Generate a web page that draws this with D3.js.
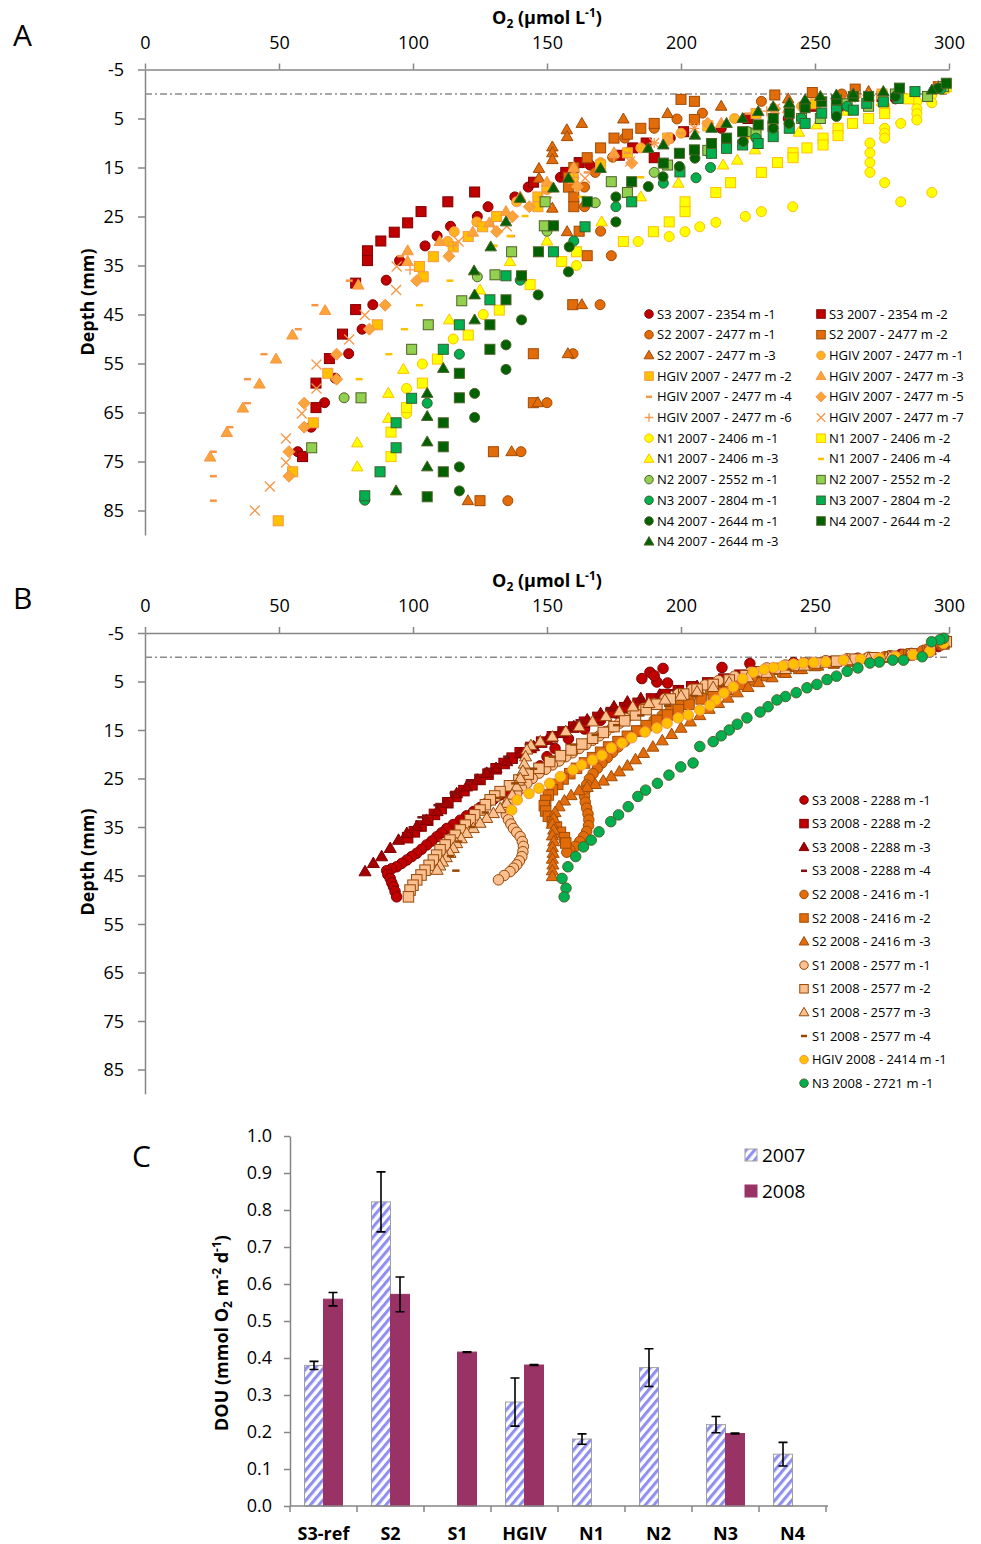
<!DOCTYPE html>
<html>
<head>
<meta charset="utf-8">
<title>Oxygen profiles and DOU</title>
<script src="https://d3js.org/d3.v7.min.js"></script>
<style>
  body { margin: 0; background: #fff; }
  svg text { font-family: "Open Sans", "Noto Sans", sans-serif; fill: #000; }
</style>
</head>
<body>
<svg id="fig" width="981" height="1544"></svg>
<script>
// ---- axis ticks and categories
var O2_TICKS = [0, 50, 100, 150, 200, 250, 300];
var DEPTH_TICKS = [-5, 5, 15, 25, 35, 45, 55, 65, 75, 85];
var DOU_TICKS = [0, 0.1, 0.2, 0.3, 0.4, 0.5, 0.6, 0.7, 0.8, 0.9, 1.0];
var SITES = ["S3-ref", "S2", "S1", "HGIV", "N1", "N2", "N3", "N4"];
var YEARS = ["2007", "2008"];

// ---- panel C values (null = no measurement)
var dou2007 = [0.38, 0.822, null, 0.281, 0.181, 0.374, 0.22, 0.14];
var err2007 = [0.011, 0.081, null, 0.065, 0.014, 0.051, 0.022, 0.032];
var dou2008 = [0.559, 0.572, 0.416, 0.381, null, null, 0.196, null];
var err2008 = [0.018, 0.047, 0.001, 0.001, null, null, 0.001, null];

// ---- panel A, 2007 profiles: [O2 umol/L, depth mm]
var a_s3_1 = [[297,-1.5],[280,1],[262,3],[240,5],[215,7],[196,9],[180,12],[166,14.5],[155,17],[143,19],[138,21],[128,23],[124,25],[114,27],[109,29],[104.5,31],[95,34],[90,38],[85,43],[81,48],[76,53],[71,58],[67,63],[62,68],[57,73]];
var a_s3_2 = [[298,-1.5],[275,0.5],[250,2.5],[225,5],[201,7.7],[187,10],[182,11],[190,13],[177,12.5],[162,14],[157,16],[145,18],[123,20],[113,22],[103,24],[98,26.3],[93,28.2],[88,30],[83,32],[83,34],[78.6,38.6],[78.6,44],[73.7,49],[68.8,54],[63.8,59],[63.8,64],[58.8,74]];
var a_s2_1 = [[298,-1],[260,0],[230,1.5],[208,3.9],[198.5,5.1],[190,7],[179,9],[174.5,12.9],[168,16],[164,19],[164,23],[170,28],[174,33],[169.8,43],[159.7,53],[150,63],[140.3,73],[135.4,83]];
var a_s2_2 = [[296,-1.5],[265,-1],[249,-0.3],[235,0.2],[205,1.5],[200,1.1],[205,5.2],[190,6],[185,7],[180,8.2],[175,9],[170,11],[165,13],[160,15],[158,17],[158,19],[160,21],[160,23],[162,28],[165,33],[159.6,43],[144.9,53],[144.9,63],[130,73],[125,83]];
var a_s2_3 = [[296,-1.5],[270,-0.5],[240,1],[215,2.5],[195,4],[178.5,5.1],[163,6],[157.4,7.3],[157.5,8.7],[152,10.8],[152,12],[152,13.4],[147,15.2],[147,17.2],[152,23.3],[157.5,28.1],[163,43],[157.8,53],[146.6,63],[136.8,73],[120.5,83]];
var a_hg_1 = [[297,-1],[270,0.5],[245,2.5],[220,5],[200,8],[185,11],[170,14],[160,17],[150,19.5],[138.7,22],[123.8,26.1],[115.4,28.1],[113,30.1]];
var a_hg_2 = [[298,-1.5],[275,0],[250,2],[228,4],[210,6.5],[195,9],[180,12],[170,14.5],[159.7,17.2],[150,19],[146.6,21],[146.6,23],[131.2,25],[126,27.1],[120.6,29.1],[115,31.2],[107.6,33.2],[102.4,35.2],[103.8,37.3],[86.7,47.1],[68.2,57],[62.8,67.1],[55.1,77.1],[49.7,87.1]];
var a_hg_3 = [[297,-1],[270,0.5],[240,3],[215,6],[195,9],[175,12],[160,15],[150,18],[140,21],[134.7,24],[128.5,26.3],[122.3,28.2],[110,30.1],[98,32],[98,34.2],[79.6,39],[67.2,44.2],[55,49.2],[48.9,54.1],[42.7,59.2],[36.5,64.1],[30.5,69.1],[24.3,74.1]];
var a_hg_4 = [[296,-1],[260,1],[225,4],[200,8],[180,12],[165,16],[150,20],[136.8,29],[130,31],[95.4,33.1],[76.2,38.1],[63.4,43.1],[57.2,48],[44.4,53.1],[38.2,58.2],[38.2,63.1],[31.7,68],[25.5,73],[25.5,78],[25.5,83]];
var a_hg_5 = [[297,-1],[265,0.5],[235,3],[210,6],[195,9.5],[181.6,14.1],[161.3,18.9],[143.4,23],[137.2,25],[131.2,28.1],[113.4,33.1],[101.4,38.1],[89.6,43.1],[83.7,48],[71.5,53.1],[71.5,58.2],[59.4,63.1],[59.4,68],[53.7,73],[53.7,78]];
var a_hg_6 = [[296,-1.2],[262,1],[232,3.5],[205,7],[190,10],[175,13],[160,17],[148,21],[130,27],[115,31],[98.9,35.9]];
var a_hg_7 = [[297,-1.5],[265,0.5],[235,3],[205,7],[190,10],[181,13.8],[164.2,17.2],[150,22],[135,27],[117,30.1],[93.9,35.2],[93.7,40],[82,45.1],[76.2,50.1],[64,55.2],[64,60.1],[58.5,65.2],[52.6,70.3],[52.6,75.2],[46.6,80.1],[41,85]];
var a_n1_1 = [[297,-1],[293.6,0.2],[293.6,1.8],[288,1.6],[288,3],[288,4],[288,5.3],[282,6],[276,7],[276,8],[276,9],[270.5,10],[270.5,12],[270.5,14],[270.5,16],[276,18.1],[282,22],[293.6,20.1],[241.7,23],[230,24],[224,25],[213,26.2],[207,27.1],[201.5,28.1],[195.6,29.1],[184,30.1],[161,35],[126.2,45],[115,50],[103.5,55.1],[97.6,60.1],[97.6,65.2]];
var a_n1_2 = [[299,-1.5],[285,1],[276,3],[276,4],[270,5],[264,6],[258.6,7],[258.6,8.5],[253,9],[253,10.4],[247,11],[241.8,12],[241.8,13],[236,14],[230,16],[218.5,18.1],[213,20.1],[201.5,22],[201.5,24],[195.6,26.1],[189.7,28.1],[178.5,30.1],[161,32.2],[155.5,34.2],[143.7,38.9],[132.2,44.1],[120.6,49.2],[109.1,54.1],[103.5,59],[97.6,64],[91.8,69],[91.8,74]];
var a_n1_3 = [[298,-1],[275,1.5],[262,3.5],[250.7,6.3],[244,7.8],[227.6,11.4],[221,13.5],[215.7,14.5],[199,18.2],[185,21],[170.4,26.1],[150,30],[136.2,34.2],[125,40],[113.5,46.1],[96.4,56.2],[90.8,61.1],[90.8,66.2],[79.2,71.2],[79.2,76.1]];
var a_n1_4 = [[295,-0.5],[270,2],[245,5],[225,9],[205,13],[185,17],[163,21],[141.8,24.9],[136.2,29],[130.3,31],[113.8,38.1],[102.4,43.1],[96.8,48],[91,53.1],[79.9,58.2]];
var a_n2_1 = [[296,-1.2],[270,0.5],[258,2.5],[246,2.6],[225,7.7],[211.4,10.4],[210.8,12.1],[190,16],[168,22.2],[150,28],[124,37.3],[74.3,62]];
var a_n2_2 = [[298,-1.5],[292,0.5],[280,0],[270,2.5],[262,2],[252,5],[245,5],[234.3,6.6],[228,8],[217,10],[210,11.5],[195,14.5],[180,20.1],[174,17.9],[149.3,22],[149,26.9],[136.8,32.2],[130.6,36.9],[118.2,42.2],[105.7,47.1],[99.5,52.1],[80.6,62],[62.2,72.2]];
var a_n3_1 = [[297,-1],[280,0.5],[262,2.5],[245,5],[228,9],[211,15],[205.6,17.1],[193.4,18.2],[175.7,23],[160,30],[140,38],[117.3,53.1],[105.3,63.1],[82,82.9]];
var a_n3_2 = [[287.3,-0.5],[281,0.9],[275.5,1.6],[269.3,1.9],[264.3,3.3],[258,3.3],[252.5,3.9],[246.3,6],[240.4,7],[234.4,8.7],[228.8,10.1],[223,10.4],[217,11.1],[211.4,12.1],[199.6,15.9],[181.6,22],[164.2,27.1],[152.4,32.2],[134.7,37.1],[128.7,42],[117.3,47.1],[111.3,52.1],[99.5,62.1],[93.7,67.1],[93.7,72.2],[87.7,77.1],[82,82]];
var a_n4_1 = [[296,-1.2],[280,0.5],[264,0.5],[258,4.6],[240.3,6],[234.4,7],[223.2,9.7],[205.2,13.1],[199.4,14.8],[193.3,16.9],[187.8,18.9],[175.7,21],[175.7,26.1],[158.3,31.2],[158,36.3],[146.7,41],[140.5,46.1],[134.7,51.2],[134.7,56.2],[123,61.1],[123,66],[117.3,76.1],[117.3,81]];
var a_n4_2 = [[299,-2.2],[281.5,-1.2],[270,0.5],[264.3,0.5],[258,1.2],[252.5,1.6],[246.3,2.8],[240.4,3.9],[234.4,5],[228.8,6.3],[223,7.7],[217,9],[211.4,10.1],[205,11.4],[199.4,12.1],[193.4,14.1],[181.6,17.9],[165,22],[152.4,26.9],[146.8,32.2],[140.5,37.1],[134.7,42],[128.7,47.1],[128.7,52.1],[117.3,57],[117.3,62],[111.3,67.1],[111.3,72],[111.3,77.1],[105.3,82.2]];
var a_n4_3 = [[293.6,-0.8],[275.5,-0.5],[264.3,0],[258,0.2],[252,0.5],[246.3,1.2],[240.4,1.9],[234.4,2.6],[228.8,3.6],[223,5],[217,6],[211.4,7],[205.2,8.4],[193.4,10.4],[187.8,11.1],[170,15.2],[158,17.2],[152.4,19.2],[140,21.3],[134.7,26.1],[129,31.2],[122.8,36.1],[123,41],[123,46.1],[111.3,56],[105.3,61.1],[105.3,65.8],[105.3,71],[105.3,76.1],[93.7,81]];

// ---- panel B, 2008 profiles: [O2 umol/L, depth mm]
var b_s3_1 = [[296,-2.2],[282,-0.6],[266,0.2],[242,1.1],[225.7,1.3],[215.3,2.1],[193.3,2.3],[188.4,3.1],[185.4,4.4],[191,5.1],[195,5.3],[190,3.8],[176,11.5],[170,13],[164,14.8],[158,16.8],[153,18.8],[150,20.5],[147.4,22.4],[145,23.9],[142.5,25.3],[140,26],[137.5,26.7],[135,27.6],[132.5,28.4],[130,29.3],[127.5,30.1],[125,31],[122.6,31.8],[120,32.7],[117.6,33.6],[115,34.5],[112.6,35.3],[110.7,36.2],[108.9,37],[107,37.9],[105.1,38.7],[103.2,39.6],[101.4,40.4],[99.5,41.1],[97.7,41.8],[95.8,42.5],[93.9,43.2],[92,43.6],[90.2,44],[90.6,44.8],[91.5,45.6],[92.1,46.5],[92.7,47.3],[93.3,48.3],[93.9,49.4]];
var b_s3_2 = [[298,-2.8],[292,-1.3],[285,-0.5],[278,-0.1],[271,0.2],[264,0.5],[257,0.9],[250,1.3],[243,1.8],[236,2.4],[229,3],[222,3.7],[216,4.5],[210,5.3],[204,6.1],[199,6.9],[194,7.7],[189,8.6],[184,9.5],[179,10.4],[174,11.4],[169,12.4],[164,13.4],[160,14.4],[156,15.4],[152,16.4],[148,17.5],[144,18.6],[140,19.7],[137,20.8],[134,21.9],[131,23],[128,24.1],[125,25.2],[122,26.3],[119,27.5],[116,28.7],[113,30],[110.5,31.2],[108,32.4],[105.5,33.6],[103,34.8],[100.5,36],[98,37.2]];
var b_s3_3 = [[298,-3],[293,-1.5],[286,-0.6],[278,-0.2],[270,0.2],[262,0.6],[254,1.1],[246,1.7],[238,2.4],[230,3.2],[222,4.1],[214,5],[206,6],[199,7],[192,7.8],[185,8.5],[180,9.2],[175,10.2],[170,11.6],[165,12.9],[160,14.3],[155,15.7],[150,17.1],[145,18.4],[140,19.8],[135,21.5],[131,22.9],[127.5,23.9],[124,25.3],[120,26.7],[116.3,28.1],[112.6,30.1],[109,31.8],[105,33.6],[101.4,34.9],[97.7,36.3],[94.6,37.7],[91.5,39.4],[88.3,41.1],[85.2,42.5],[82.1,44.2]];
var b_s3_4 = [[297,-2.5],[285,-0.8],[270,0],[255,0.8],[240,1.8],[225,3.2],[210,5],[197,6.8],[185,8.6],[173,10.8],[162,13],[152,15.5],[143,18],[135,20.5],[128,23],[121,25.5],[115,28],[109,30.5],[103,33]];
var b_s2_1 = [[297,-2.5],[290,-1.3],[283,-0.6],[276,-0.1],[269,0.3],[262,0.6],[255,1],[248,1.4],[242,1.9],[236,2.5],[230,3.2],[225,4],[220,4.9],[215,5.9],[211,6.9],[207,7.9],[203,8.9],[199.5,9.9],[196,10.9],[193,12],[190,13],[187,14.1],[184,15.2],[181.5,16.3],[179,17.4],[176.5,18.5],[174.5,19.6],[172.5,20.7],[170.5,21.8],[168.8,22.9],[167.2,24],[165.8,25.1],[164.8,26.3],[164.2,27.5],[164,28.7],[164.3,29.9],[164.8,31.1],[165.3,32.3],[165.6,33.5],[165.5,34.7],[164.8,35.9],[163.6,37],[162.2,38],[160.5,39],[158.5,39.7],[157.4,40.2]];
var b_s2_2 = [[298,-2.8],[292,-1.4],[285,-0.5],[278,0],[271,0.4],[264,0.8],[257,1.2],[250,1.7],[244,2.3],[238,3],[232,3.8],[227,4.7],[222,5.6],[217,6.6],[212,7.6],[207.5,8.6],[203,9.7],[199,10.8],[195,11.9],[191,13],[187,14.1],[183.5,15.2],[180,16.3],[176.5,17.4],[173,18.5],[170,19.6],[167,20.7],[164,21.8],[161,22.9],[158.5,24],[156,25.1],[154,26.2],[152,27.3],[150.5,28.4],[149.5,29.5],[149,30.6],[149.5,31.7],[150.5,32.8],[152,33.9],[153.5,35],[155,36.1],[156.5,37.2],[157,38.3]];
var b_s2_3 = [[298,-3],[292,-1.5],[285,-0.6],[278,-0.1],[271,0.3],[264,0.7],[257,1.2],[251,1.8],[245,2.5],[239,3.3],[234,4.2],[229,5.2],[225,6.2],[221,7.3],[217.5,8.4],[214,9.5],[210.5,10.7],[207,12],[203.5,13.3],[200,14.6],[196.5,15.9],[193,17.2],[189.5,18.5],[186,19.8],[183,21.1],[180,22.4],[177,23.6],[174,24.6],[171,25.5],[168,26.2],[165,26.8],[162,27.5],[159,28.5],[156.5,29.6],[154.5,30.8],[153,32],[152.5,33.2],[152,34.4],[152.5,35.6],[152,36.8],[152.5,38],[152,39.2],[152.3,40.4],[152,41.6],[152.2,42.8],[152,44],[152,45.2]];
var b_s1_1 = [[299,-3.5],[293,-1.8],[286,-0.8],[278,-0.3],[270,0],[262,0.3],[254,0.7],[246,1.1],[239,1.6],[232,2.2],[226,3],[220,3.9],[214,4.8],[209,5.7],[204,6.6],[199,7.5],[194,8.5],[190,9.5],[186,10.5],[182,11.6],[179.5,12.6],[177,13.6],[174.5,14.4],[172,15.3],[169.5,16.2],[167,17.1],[164.5,18],[162,18.8],[159.5,19.7],[157,20.5],[154.5,21.4],[152,22.2],[149.5,23.1],[147,23.9],[144.5,25],[142.5,26],[140.5,27],[138.7,28.1],[137,29],[135.6,29.8],[134.8,30.6],[134.4,31.5],[134.8,32.5],[135.6,33.5],[136.5,34.4],[137.5,35.3],[138.7,36.1],[140,37],[140.8,38],[141.2,39],[141,40.1],[140.6,41.1],[139.7,42],[138.7,42.8],[137.5,43.5],[136.2,44.2],[134,45],[131.9,45.9]];
var b_s1_2 = [[299,-3.2],[293,-1.6],[286,-0.7],[279,-0.2],[272,0.1],[265,0.4],[258,0.8],[251,1.2],[244,1.7],[237,2.3],[230,3],[224,3.8],[218,4.7],[212,5.6],[206,6.6],[201,7.6],[196,8.6],[191,9.7],[187,10.8],[183,11.9],[179,13.1],[175,14.3],[171,15.5],[167,16.7],[163,17.9],[159,19.1],[155,20.3],[151,21.5],[147,22.9],[143,24.1],[139.5,25.3],[136,26.5],[132.5,27.7],[130.5,28.6],[128.8,29.4],[127,30.4],[125,31.5],[123,32.5],[121.3,33.5],[119.5,34.6],[117.6,35.6],[115.7,36.7],[113.8,37.7],[112,38.7],[110.1,39.7],[108.8,40.8],[107.6,41.8],[106,42.9],[104.5,43.9],[103,44.9],[101.4,45.9],[100,47],[98.9,48],[98.3,49.4]];
var b_s1_3 = [[298,-3],[292,-1.4],[285,-0.5],[278,0],[270,0.3],[262,0.7],[254,1.2],[246,1.8],[239,2.5],[232,3.3],[225,4.2],[218,5.2],[212,6.2],[206,7.1],[200,8],[194,8.8],[188,9.5],[182,10.2],[177,11.2],[172,12.2],[167,13.3],[162,14.3],[157,15.3],[152,16.4],[147.5,17.4],[144,18.2],[142.5,19.1],[142,20.5],[141.5,22],[141,23.5],[140,25],[138.7,26.7],[137,28.4],[135,30.1],[132.5,31.2],[130,32.2],[127.5,33.2],[125,34.2],[122.5,35.3],[120,36.3],[118,37.4],[116.3,38.4],[115,39.4],[113.8,40.4],[112.4,41.3],[111,42.2],[110,43],[109,43.9]];
var b_s1_4 = [[298,-3],[285,-0.5],[270,0.5],[255,1.2],[240,2.5],[228,4],[215,6],[205,8],[195,10],[185,12],[176,14],[168,16],[160,18],[152,20.5],[145,23],[138,26],[132,29],[127,32],[122,35],[117,38],[114,41],[116,44]];
var b_hg_1 = [[298,-2.9],[292.8,-1.2],[286.6,-0.5],[280,-0.1],[274,0.2],[267,0.4],[260.6,0.6],[254,1],[249.5,1.05],[245.6,1.2],[242,1.4],[238,1.8],[234.5,2.1],[231,2.5],[227,3.1],[223,4.4],[219.5,6.1],[216,7.4],[213,8.8],[210.8,9.9],[207,10.9],[202.7,11.9],[199,12.5],[194.8,13.6],[191,14.6],[186.6,15.4],[181.6,16.6],[178,17.7],[174,18.7],[170.5,20.2],[167,21.2],[162.9,22.2],[159.7,23.2],[155,24.6],[151,26],[147,27],[143.3,28.1],[138.9,29.4],[136.8,31.5]];
var b_n3_1 = [[298,-3.9],[296.6,-3.6],[293.5,-3.2],[290,-0.1],[283,0.6],[279,0.6],[274,1],[270.5,1.2],[266,2.2],[262,2.9],[258,3.9],[254.5,4.6],[250.7,5.6],[247,6.3],[243,7.3],[239,8.1],[235.8,8.8],[232.5,10.2],[229.5,11.3],[224.6,12.5],[221,13.8],[218,15],[215,16.2],[212,17.4],[207,18.4],[204.5,21.8],[199.9,22.6],[195.5,24.3],[191.2,26],[186.8,27.4],[183.9,28.7],[180.3,30.8],[176.7,32.5],[173.8,33.9],[169.4,36],[166.5,37.7],[163.6,39.1],[160.7,41.1],[157.8,43.2],[155.6,45.6],[157.1,47.6],[156.4,49.4]];

// ---- series tables (legend order = drawing order)
var seriesA = [
  { name: "S3 2007 - 2354 m -1", data: a_s3_1, shape: "circle", fill: "#c00000", stroke: "#7f0000" },
  { name: "S3 2007 - 2354 m -2", data: a_s3_2, shape: "square", fill: "#c00000", stroke: "#7f0000" },
  { name: "S2 2007 - 2477 m -1", data: a_s2_1, shape: "circle", fill: "#e26b0a", stroke: "#a14c06" },
  { name: "S2 2007 - 2477 m -2", data: a_s2_2, shape: "square", fill: "#e26b0a", stroke: "#a14c06" },
  { name: "S2 2007 - 2477 m -3", data: a_s2_3, shape: "triangle", fill: "#e26b0a", stroke: "#a14c06" },
  { name: "HGIV 2007 - 2477 m -1", data: a_hg_1, shape: "circle", fill: "#ffb21f", stroke: "#f79646" },
  { name: "HGIV 2007 - 2477 m -2", data: a_hg_2, shape: "square", fill: "#ffc000", stroke: "#f79646" },
  { name: "HGIV 2007 - 2477 m -3", data: a_hg_3, shape: "triangle", fill: "#faa43a", stroke: "#f79646" },
  { name: "HGIV 2007 - 2477 m -4", data: a_hg_4, shape: "dash", fill: "#f79646", stroke: "#f79646" },
  { name: "HGIV 2007 - 2477 m -5", data: a_hg_5, shape: "diamond", fill: "#faa43a", stroke: "#f79646" },
  { name: "HGIV 2007 - 2477 m -6", data: a_hg_6, shape: "plus", fill: "#f79646", stroke: "#f79646" },
  { name: "HGIV 2007 - 2477 m -7", data: a_hg_7, shape: "cross", fill: "#f79646", stroke: "#f79646" },
  { name: "N1 2007 - 2406 m -1", data: a_n1_1, shape: "circle", fill: "#ffff00", stroke: "#ffc000" },
  { name: "N1 2007 - 2406 m -2", data: a_n1_2, shape: "square", fill: "#ffff00", stroke: "#ffc000" },
  { name: "N1 2007 - 2406 m -3", data: a_n1_3, shape: "triangle", fill: "#ffff00", stroke: "#ffc000" },
  { name: "N1 2007 - 2406 m -4", data: a_n1_4, shape: "dash", fill: "#ffc000", stroke: "#ffc000" },
  { name: "N2 2007 - 2552 m -1", data: a_n2_1, shape: "circle", fill: "#92d050", stroke: "#4f6228" },
  { name: "N2 2007 - 2552 m -2", data: a_n2_2, shape: "square", fill: "#92d050", stroke: "#4f6228" },
  { name: "N3 2007 - 2804 m -1", data: a_n3_1, shape: "circle", fill: "#00b050", stroke: "#38602a" },
  { name: "N3 2007 - 2804 m -2", data: a_n3_2, shape: "square", fill: "#00b050", stroke: "#38602a" },
  { name: "N4 2007 - 2644 m -1", data: a_n4_1, shape: "circle", fill: "#006100", stroke: "#4f6228" },
  { name: "N4 2007 - 2644 m -2", data: a_n4_2, shape: "square", fill: "#006100", stroke: "#4f6228" },
  { name: "N4 2007 - 2644 m -3", data: a_n4_3, shape: "triangle", fill: "#006100", stroke: "#4f6228" }
];
var seriesB = [
  { name: "S3 2008 - 2288 m -1", data: b_s3_1, shape: "circle", fill: "#c00000", stroke: "#7f0000" },
  { name: "S3 2008 - 2288 m -2", data: b_s3_2, shape: "square", fill: "#c00000", stroke: "#7f0000" },
  { name: "S3 2008 - 2288 m -3", data: b_s3_3, shape: "triangle", fill: "#a50000", stroke: "#7f0000" },
  { name: "S3 2008 - 2288 m -4", data: b_s3_4, shape: "dash", fill: "#7f1010", stroke: "#7f1010" },
  { name: "S2 2008 - 2416 m -1", data: b_s2_1, shape: "circle", fill: "#e26b0a", stroke: "#a14c06" },
  { name: "S2 2008 - 2416 m -2", data: b_s2_2, shape: "square", fill: "#e26b0a", stroke: "#a14c06" },
  { name: "S2 2008 - 2416 m -3", data: b_s2_3, shape: "triangle", fill: "#e26b0a", stroke: "#a14c06" },
  { name: "S1 2008 - 2577 m -1", data: b_s1_1, shape: "circle", fill: "#fac090", stroke: "#974706" },
  { name: "S1 2008 - 2577 m -2", data: b_s1_2, shape: "square", fill: "#fac090", stroke: "#974706" },
  { name: "S1 2008 - 2577 m -3", data: b_s1_3, shape: "triangle", fill: "#fac090", stroke: "#974706" },
  { name: "S1 2008 - 2577 m -4", data: b_s1_4, shape: "dash", fill: "#974706", stroke: "#974706" },
  { name: "HGIV 2008 - 2414 m -1", data: b_hg_1, shape: "circle", fill: "#ffc000", stroke: "#f79646" },
  { name: "N3 2008 - 2721 m -1", data: b_n3_1, shape: "circle", fill: "#00b050", stroke: "#4f6228" }
];

var svg = d3.select("#fig");
var GREY = "#868686";

// one marker, centred on 0,0 of g
function drawMarker(g, shape, fill, stroke, s) {
  var h = s / 2;
  if (shape === "circle") {
    g.append("circle").attr("r", h).attr("fill", fill).attr("stroke", stroke).attr("stroke-width", 1);
  } else if (shape === "square") {
    g.append("rect").attr("x", -h).attr("y", -h).attr("width", s).attr("height", s)
      .attr("fill", fill).attr("stroke", stroke).attr("stroke-width", 1);
  } else if (shape === "triangle") {
    var a = s * 1.15, t = a * Math.sqrt(3) / 2;
    g.append("path").attr("d", "M0," + (-t * 0.6) + "L" + (a / 2) + "," + (t * 0.4) + "L" + (-a / 2) + "," + (t * 0.4) + "Z")
      .attr("fill", fill).attr("stroke", stroke).attr("stroke-width", 1);
  } else if (shape === "diamond") {
    var r = s * 0.6;
    g.append("path").attr("d", "M0," + (-r) + "L" + r + ",0L0," + r + "L" + (-r) + ",0Z")
      .attr("fill", fill).attr("stroke", stroke).attr("stroke-width", 1);
  } else if (shape === "dash") {
    g.append("line").attr("x1", -s * 0.35).attr("x2", s * 0.35).attr("stroke", fill).attr("stroke-width", 2.5);
  } else if (shape === "plus") {
    g.append("path").attr("d", "M" + (-h) + ",0H" + h + "M0," + (-h) + "V" + h)
      .attr("stroke", fill).attr("stroke-width", 1.3).attr("fill", "none");
  } else if (shape === "cross") {
    g.append("path").attr("d", "M" + (-h) + "," + (-h) + "L" + h + "," + h + "M" + (-h) + "," + h + "L" + h + "," + (-h))
      .attr("stroke", fill).attr("stroke-width", 1.3).attr("fill", "none");
  }
}

function styleAxis(g) {
  g.select(".domain").attr("stroke", GREY).attr("stroke-width", 1.5);
  g.selectAll(".tick line").attr("stroke", GREY).attr("stroke-width", 1.5);
  g.selectAll(".tick text").style("font-size", "18px").attr("fill", "#000");
}

function o2Title(x, y) {
  var t = svg.append("text").attr("x", x).attr("y", y).attr("text-anchor", "middle")
    .style("font-size", "18px").style("font-weight", "bold");
  t.append("tspan").text("O");
  t.append("tspan").text("2").attr("dy", 4).style("font-size", "12px");
  t.append("tspan").text(" (µmol L").attr("dy", -4);
  t.append("tspan").text("-1").attr("dy", -7).style("font-size", "12px");
  t.append("tspan").text(")").attr("dy", 7);
}

// profile panel (A or B)
function profilePanel(opt) {
  var x = d3.scaleLinear().domain([0, 300]).range([145, 949]);
  var y = d3.scaleLinear().domain([-5, 90]).range([opt.top, opt.top + 95 * opt.unit]);

  svg.append("g").attr("transform", "translate(0," + opt.top + ")")
    .call(d3.axisTop(x).tickValues(O2_TICKS).tickSize(6).tickSizeOuter(0).tickPadding(15).tickFormat(function(d){ return String(d); }))
    .call(styleAxis);
  svg.append("g").attr("transform", "translate(145,0)")
    .call(d3.axisLeft(y).tickValues(DEPTH_TICKS).tickSize(7).tickSizeOuter(0).tickPadding(14).tickFormat(function(d){ return String(d); }))
    .call(styleAxis)
    .selectAll(".tick text").attr("dy", "0.36em");

  svg.append("line").attr("x1", x(0)).attr("x2", x(300)).attr("y1", y(0)).attr("y2", y(0))
    .attr("stroke", "#8a8a8a").attr("stroke-width", 1.3).attr("stroke-dasharray", "7,3,2,3");

  o2Title(547, opt.top - 46);
  svg.append("text").attr("transform", "translate(94," + opt.labelY + ") rotate(-90)")
    .attr("text-anchor", "middle").style("font-size", "18px").style("font-weight", "bold").text("Depth (mm)");
  svg.append("text").attr("x", 13).attr("y", opt.top - 24).style("font-size", "30px").text(opt.letter);

  var plot = svg.append("g");
  opt.series.forEach(function(sr) {
    plot.append("g").selectAll("g").data(sr.data).join("g")
      .attr("transform", function(d){ return "translate(" + x(d[0]) + "," + y(d[1]) + ")"; })
      .each(function(){ drawMarker(d3.select(this), sr.shape, sr.fill, sr.stroke, opt.size); });
  });

  var leg = svg.append("g");
  opt.series.forEach(function(sr, i) {
    var col = opt.cols === 2 ? i % 2 : 0;
    var row = opt.cols === 2 ? Math.floor(i / 2) : i;
    var lx = opt.legX[col], ly = opt.legY + row * opt.legStep;
    var m = leg.append("g").attr("transform", "translate(" + lx + "," + ly + ")");
    drawMarker(m, sr.shape, sr.fill, sr.stroke, 8.5);
    leg.append("text").attr("x", lx + 8).attr("y", ly + 4.5).style("font-size", "13px").text(sr.name);
  });
}

profilePanel({ top: 69.5, unit: 4.9, series: seriesA, size: 10, letter: "A", labelY: 302,
  cols: 2, legX: [649, 821], legY: 314, legStep: 20.7 });
profilePanel({ top: 633, unit: 4.85, series: seriesB, size: 10.5, letter: "B", labelY: 862,
  cols: 1, legX: [804], legY: 800, legStep: 23.6 });

// ---- panel C, DOU bar chart
var defs = svg.append("defs");
var pat = defs.append("pattern").attr("id", "hatch").attr("patternUnits", "userSpaceOnUse")
  .attr("width", 6.5).attr("height", 6.5).attr("patternTransform", "rotate(40)");
pat.append("rect").attr("width", 6.5).attr("height", 6.5).attr("fill", "#fff");
pat.append("line").attr("x1", 1.5).attr("x2", 1.5).attr("y1", 0).attr("y2", 6.5)
  .attr("stroke", "#8f8ff2").attr("stroke-width", 3.2);

var x0 = d3.scaleBand().domain(SITES).range([290, 826]);
var x1 = d3.scaleBand().domain(YEARS).range([14.5, 52.5]);
var yC = d3.scaleLinear().domain([0, 1]).range([1506, 1136]);

svg.append("g").attr("transform", "translate(290,0)")
  .call(d3.axisLeft(yC).tickValues(DOU_TICKS).tickSize(6).tickSizeOuter(0).tickPadding(12).tickFormat(d3.format(".1f")))
  .call(styleAxis);

var rows = SITES.map(function(s, i) {
  return { site: s, vals: [
    { year: "2007", v: dou2007[i], e: err2007[i] },
    { year: "2008", v: dou2008[i], e: err2008[i] }
  ].filter(function(d){ return d.v !== null; }) };
});

var groups = svg.append("g").selectAll("g").data(rows).join("g")
  .attr("transform", function(d){ return "translate(" + x0(d.site) + ",0)"; });
groups.selectAll("rect").data(function(d){ return d.vals; }).join("rect")
  .attr("x", function(d){ return x1(d.year); })
  .attr("width", x1.bandwidth())
  .attr("y", function(d){ return yC(d.v); })
  .attr("height", function(d){ return yC(0) - yC(d.v); })
  .attr("fill", function(d){ return d.year === "2007" ? "url(#hatch)" : "#993366"; })
  .attr("stroke", function(d){ return d.year === "2007" ? "#a0a0a0" : "#993366"; })
  .attr("stroke-width", 1);
groups.selectAll("path.err").data(function(d){ return d.vals; }).join("path").attr("class", "err")
  .attr("d", function(d) {
    var cx = x1(d.year) + x1.bandwidth() / 2, t = yC(d.v + d.e), b = yC(d.v - d.e);
    return "M" + cx + "," + t + "V" + b + "M" + (cx - 4.5) + "," + t + "H" + (cx + 4.5) + "M" + (cx - 4.5) + "," + b + "H" + (cx + 4.5);
  })
  .attr("stroke", "#000").attr("stroke-width", 1.6).attr("fill", "none");

// x axis of C with ticks between categories
var xAxisC = svg.append("g");
xAxisC.append("line").attr("x1", 290).attr("x2", 828).attr("y1", 1506).attr("y2", 1506)
  .attr("stroke", GREY).attr("stroke-width", 1.5);
xAxisC.selectAll("line.tk").data(SITES.concat(["end"])).join("line").attr("class", "tk")
  .attr("x1", function(d, i){ return 290 + i * x0.bandwidth(); })
  .attr("x2", function(d, i){ return 290 + i * x0.bandwidth(); })
  .attr("y1", 1506).attr("y2", 1512).attr("stroke", GREY).attr("stroke-width", 1.5);
xAxisC.selectAll("text").data(SITES).join("text")
  .attr("x", function(d){ return x0(d) + x0.bandwidth() / 2; }).attr("y", 1540)
  .attr("text-anchor", "middle").style("font-size", "18px").style("font-weight", "bold").text(function(d){ return d; });

var dl = svg.append("text").attr("transform", "translate(228,1333) rotate(-90)")
  .attr("text-anchor", "middle").style("font-size", "18px").style("font-weight", "bold");
dl.append("tspan").text("DOU (mmol O");
dl.append("tspan").text("2").attr("dy", 4).style("font-size", "12px");
dl.append("tspan").text(" m").attr("dy", -4);
dl.append("tspan").text("-2").attr("dy", -7).style("font-size", "12px");
dl.append("tspan").text(" d").attr("dy", 7);
dl.append("tspan").text("-1").attr("dy", -7).style("font-size", "12px");
dl.append("tspan").text(")").attr("dy", 7);

svg.append("text").attr("x", 132).attr("y", 1167).style("font-size", "30px").text("C");

var legC = svg.append("g").selectAll("g").data(YEARS).join("g")
  .attr("transform", function(d, i){ return "translate(745," + (1149 + i * 36) + ")"; });
legC.append("rect").attr("width", 12).attr("height", 12)
  .attr("fill", function(d){ return d === "2007" ? "url(#hatch)" : "#993366"; })
  .attr("stroke", function(d){ return d === "2007" ? "#a0a0a0" : "#993366"; });
legC.append("text").attr("x", 17).attr("y", 12.5).style("font-size", "19px").text(function(d){ return d; });
</script>
</body>
</html>
